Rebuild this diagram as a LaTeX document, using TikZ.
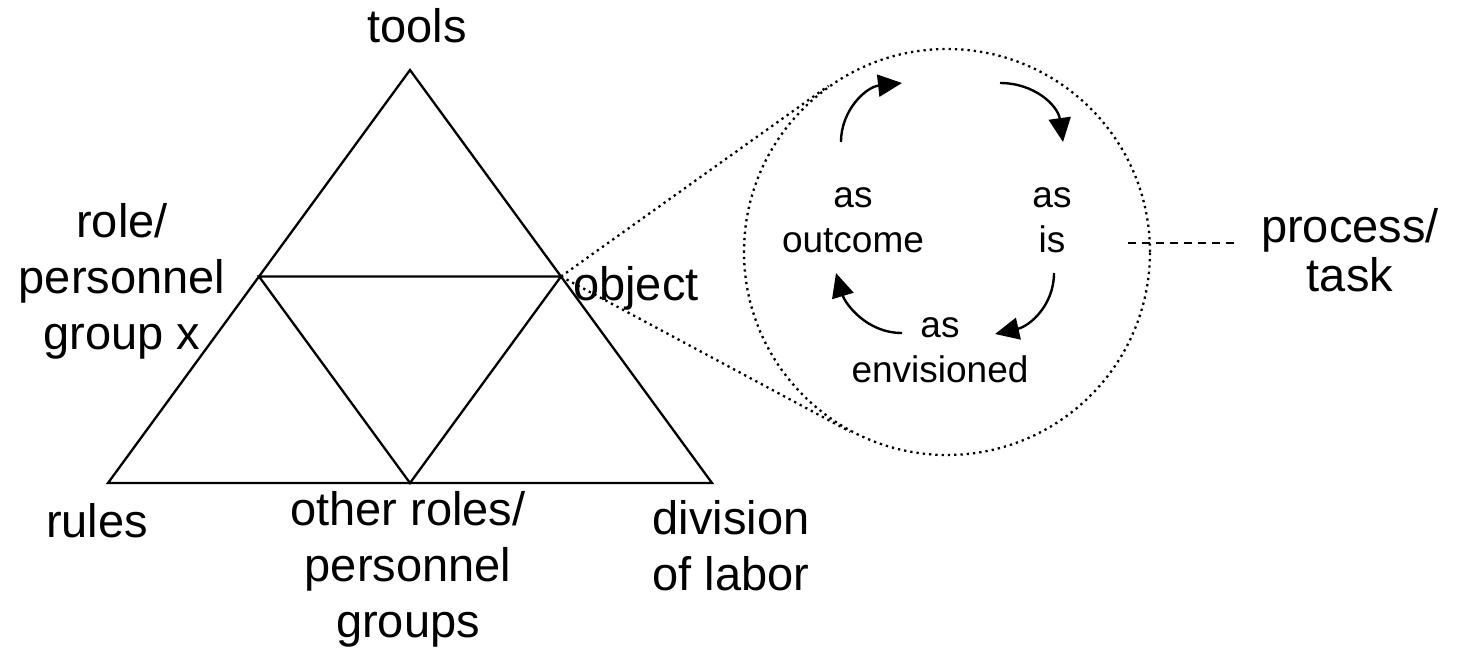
\documentclass[tikz,border=0pt]{standalone}
\usepackage{fontspec}
\setmainfont{Liberation Sans}
\usepackage{tikz}
\usetikzlibrary{shapes,arrows.meta,calc}

\begin{document}
\begin{tikzpicture}[x=0.5pt,y=-0.5pt,
  lbl/.style={align=center,inner sep=0pt,font=\fontsize{23.5}{28}\selectfont},
  small/.style={align=center,inner sep=0pt,font=\fontsize{18.5}{22.5}\selectfont},
  edge/.style={line width=1.15pt},
  zoomline/.style={dotted,line width=1.15pt},
  cyc/.style={line width=1.2pt,-{Triangle[length=12pt,width=11pt]}}]
\useasboundingbox (0,0) rectangle (1463,648);
% triangle
\coordinate (T) at (410,70);
\coordinate (L) at (108,483);
\coordinate (R) at (712,483);
\coordinate (ML) at ($(T)!0.5!(L)$);
\coordinate (MR) at ($(T)!0.5!(R)$);
\coordinate (MB) at ($(L)!0.5!(R)$);
\draw[edge] (T)--(L)--(R)--cycle;
\draw[edge] (ML)--(MR)--(MB)--cycle;
\node[lbl] (tools) at (417,26) {tools};
\node[lbl] (role) at (122,281) {role/\\personnel\\group x};
\node[lbl] (object) at (636,288) {object};
\node[lbl] (rules) at (97,521) {rules};
\node[lbl] (others) at (408,569) {other roles/\\personnel\\groups};
\node[lbl] (division) at (731,546) {division\\of labor};
% zoomed process
\node[circle,draw,zoomline,minimum size=203pt,inner sep=0pt] (C) at (947,252) {};
\draw[zoomline] (MR) -- (tangent cs:node=C,point={(MR)},solution=1);
\draw[zoomline] (MR) -- (tangent cs:node=C,point={(MR)},solution=2);
\node[small] (outcome) at (853,220) {as\\outcome};
\node[small] (asis) at (1052,220) {as\\is};
\node[small] (envis) at (940,350) {as\\envisioned};
\coordinate (A1) at (841,142);
\coordinate (A2) at (902,83);
\coordinate (A3) at (1000,83);
\coordinate (A4) at (1063,142);
\coordinate (A5) at (1054,273);
\coordinate (A6) at (995,334);
\coordinate (A7) at (902,333);
\coordinate (A8) at (836,273);
\draw[cyc] (A1) .. controls (841,110) and (866,87) .. (A2);
\draw[cyc] (A3) .. controls (1035,83) and (1058,106) .. (A4);
\draw[cyc] (A5) .. controls (1054,305) and (1030,326) .. (A6);
\draw[cyc] (A7) .. controls (866,333) and (845,303) .. (A8);
% process/task
\node[lbl,font=\fontsize{23.5}{24.5}\selectfont] (process) at (1350,250) {process/\\task};
\coordinate (D) at (1128,243);
\draw[line width=1pt,dash pattern=on 4pt off 3pt,shorten >=13.5pt] (D) -- (D -| process.west);
\end{tikzpicture}
\end{document}
